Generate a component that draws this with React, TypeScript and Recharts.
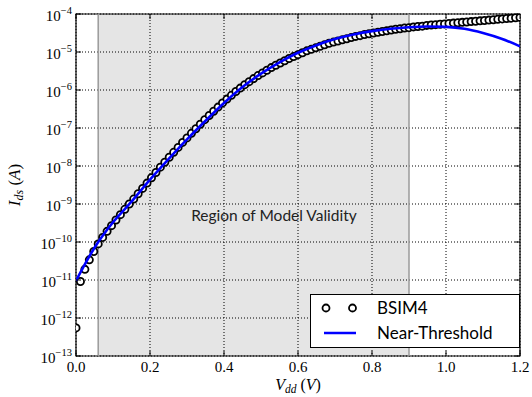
import React from 'react';
import {
  LineChart,
  Line,
  XAxis,
  YAxis,
  CartesianGrid,
  ReferenceArea,
  ReferenceLine,
  ReferenceDot,
  Legend,
  Label,
} from 'recharts';

// sweep points of the BSIM4 simulation (V)
const vdd = [
  0, 0.012, 0.024, 0.036, 0.048, 0.06, 0.072, 0.084, 0.096, 0.108,
  0.12, 0.132, 0.144, 0.156, 0.168, 0.18, 0.192, 0.204, 0.216, 0.228,
  0.24, 0.252, 0.264, 0.276, 0.288, 0.3, 0.312, 0.324, 0.336, 0.348,
  0.36, 0.372, 0.384, 0.396, 0.408, 0.42, 0.432, 0.444, 0.456, 0.468,
  0.48, 0.492, 0.504, 0.516, 0.528, 0.54, 0.552, 0.564, 0.576, 0.588,
  0.6, 0.612, 0.624, 0.636, 0.648, 0.66, 0.672, 0.684, 0.696, 0.708,
  0.72, 0.732, 0.744, 0.756, 0.768, 0.78, 0.792, 0.804, 0.816, 0.828,
  0.84, 0.852, 0.864, 0.876, 0.888, 0.9, 0.912, 0.924, 0.936, 0.948,
  0.96, 0.972, 0.984, 0.996, 1.008, 1.02, 1.032, 1.044, 1.056, 1.068,
  1.08, 1.092, 1.104, 1.116, 1.128, 1.14, 1.152, 1.164, 1.176, 1.188,
  1.2,
];

// log10(Ids)
const bsim4Log = [
  -12.26, -11.04, -10.72, -10.47, -10.25, -10.05, -9.88, -9.72, -9.57, -9.42,
  -9.28, -9.14, -9.0, -8.87, -8.73, -8.59, -8.45, -8.31, -8.17, -8.03,
  -7.9, -7.77, -7.64, -7.51, -7.38, -7.26, -7.14, -7.02, -6.9, -6.78,
  -6.67, -6.56, -6.45, -6.34, -6.24, -6.14, -6.04, -5.95, -5.86, -5.78,
  -5.7, -5.62, -5.55, -5.48, -5.41, -5.35, -5.29, -5.23, -5.17, -5.12,
  -5.07, -5.02, -4.97, -4.93, -4.89, -4.85, -4.81, -4.77, -4.74, -4.71,
  -4.68, -4.65, -4.62, -4.59, -4.57, -4.54, -4.52, -4.5, -4.48, -4.46,
  -4.44, -4.42, -4.4, -4.39, -4.37, -4.36, -4.34, -4.33, -4.32, -4.3,
  -4.29, -4.28, -4.27, -4.26, -4.25, -4.24, -4.23, -4.22, -4.21, -4.2,
  -4.19, -4.18, -4.17, -4.16, -4.15, -4.14, -4.13, -4.12, -4.11, -4.1,
  -4.09,
];

// near-threshold model curve
const ntVdd = [
  0, 0.05, 0.1, 0.15, 0.2, 0.25, 0.3, 0.35, 0.4, 0.45, 0.5, 0.55, 0.6,
  0.65, 0.7, 0.75, 0.8, 0.85, 0.9, 0.95, 1.0, 1.05, 1.1, 1.15, 1.2,
];
const ntLog = [
  -11.02, -10.15, -9.48, -8.94, -8.36, -7.82, -7.3, -6.81, -6.34, -5.92,
  -5.57, -5.27, -5.02, -4.82, -4.66, -4.54, -4.45, -4.39, -4.35, -4.33,
  -4.34, -4.39, -4.5, -4.65, -4.85,
];

const xTicks = [0, 0.2, 0.4, 0.6, 0.8, 1.0, 1.2];
const decades = [1e-13, 1e-12, 1e-11, 1e-10, 1e-9, 1e-8, 1e-7, 1e-6, 1e-5, 1e-4];
const minorTicks = decades.slice(0, -1).flatMap((d) => [2, 3, 4, 5, 6, 7, 8, 9].map((k) => k * d));

const validity = [0.06, 0.9];

const bsimRows = vdd.map((v, i) => ({ v, ids: Math.pow(10, bsim4Log[i]) }));
const ntRows = ntVdd.map((v, i) => ({ v, ids: Math.pow(10, ntLog[i]) }));

const W = 532;
const H = 397;
const PLOT_W = 444;
const PLOT_H = 342;
const SERIF = '"Liberation Serif", "DejaVu Serif", serif';
const SANS = 'Lato, "DejaVu Sans", sans-serif';

const XTick = (props: any) => {
  const { x, y, payload } = props;
  return (
    <g>
      <line x1={x} y1={y} x2={x} y2={y - 5} stroke="#000" strokeWidth={1} />
      <line x1={x} y1={y - PLOT_H} x2={x} y2={y - PLOT_H + 5} stroke="#000" strokeWidth={1} />
      <text x={x} y={y + 16} textAnchor="middle" fontFamily={SERIF} fontSize={15} fill="#000">
        {payload.value.toFixed(1)}
      </text>
    </g>
  );
};

const YTick = (props: any) => {
  const { x, y, payload } = props;
  const exp = Math.round(Math.log10(payload.value));
  return (
    <g>
      <line x1={x} y1={y} x2={x + 5} y2={y} stroke="#000" strokeWidth={1} />
      <line x1={x + PLOT_W} y1={y} x2={x + PLOT_W - 5} y2={y} stroke="#000" strokeWidth={1} />
      <text x={x - 4} y={y + 7} textAnchor="end" fontFamily={SERIF} fontSize={15} fill="#000">
        <tspan>10</tspan>
        <tspan dy={-7} fontSize={10.5}>{`\u2212${-exp}`}</tspan>
      </text>
    </g>
  );
};

const MinorTick = (props: any) => {
  const { x, y } = props;
  return (
    <g>
      <line x1={x} y1={y} x2={x - 2.5} y2={y} stroke="#000" strokeWidth={0.8} />
      <line x1={x - PLOT_W} y1={y} x2={x - PLOT_W + 2.5} y2={y} stroke="#000" strokeWidth={0.8} />
    </g>
  );
};

const XTitle = (props: any) => {
  const { viewBox } = props;
  const cx = viewBox.x + viewBox.width / 2;
  return (
    <text x={cx} y={viewBox.y + 34} textAnchor="middle" fontFamily={SERIF} fontSize={16} fill="#000">
      <tspan fontStyle="italic">V</tspan>
      <tspan fontStyle="italic" fontSize={11.5} dy={2.5}>dd</tspan>
      <tspan dy={-2.5}>{' ('}</tspan>
      <tspan fontStyle="italic">V</tspan>
      <tspan>)</tspan>
    </text>
  );
};

const YTitle = (props: any) => {
  const { viewBox } = props;
  const cy = viewBox.y + viewBox.height / 2;
  const cx = 20;
  return (
    <text
      x={cx}
      y={cy}
      transform={`rotate(-90, ${cx}, ${cy})`}
      textAnchor="middle"
      fontFamily={SERIF}
      fontSize={17}
      fill="#000"
    >
      <tspan fontStyle="italic">I</tspan>
      <tspan fontStyle="italic" fontSize={12} dy={3}>ds</tspan>
      <tspan dy={-3}>{' ('}</tspan>
      <tspan fontStyle="italic">A</tspan>
      <tspan>)</tspan>
    </text>
  );
};

const RegionLabel = (props: any) => {
  const { viewBox } = props;
  const cx = viewBox.x + viewBox.width / 2;
  const cy = viewBox.y + viewBox.height / 2;
  return (
    <text x={cx} y={cy + 5} textAnchor="middle" fontFamily={SANS} fontSize={15.5} fill="#222">
      Region of Model Validity
    </text>
  );
};

const LegendBox = () => (
  <div
    style={{
      position: 'relative',
      width: 210,
      height: 54,
      border: '1px solid #000',
      background: '#fff',
      boxSizing: 'border-box',
      fontFamily: SANS,
      fontSize: 17,
      color: '#000',
    }}
  >
    <svg width={60} height={54} style={{ position: 'absolute', left: 0, top: 0 }}>
      <circle cx={15} cy={13} r={3.5} fill="#fff" stroke="#000" strokeWidth={1.8} />
      <circle cx={41.5} cy={13} r={3.5} fill="#fff" stroke="#000" strokeWidth={1.8} />
      <line x1={13} y1={38} x2={45} y2={38} stroke="#0000ff" strokeWidth={2.5} />
    </svg>
    <div style={{ position: 'absolute', left: 66, top: 3, lineHeight: '20px' }}>BSIM4</div>
    <div style={{ position: 'absolute', left: 66, top: 28, lineHeight: '20px' }}>Near-Threshold</div>
  </div>
);

export default function App() {
  return (
    <div style={{ position: 'absolute', left: 0, top: 0, width: W, height: H, background: '#fff' }}>
      <LineChart width={W} height={H} margin={{ top: 14, right: 12, bottom: 0, left: 0 }}>
        <CartesianGrid
          xAxisId="x"
          yAxisId="L"
          stroke="#000"
          strokeWidth={1}
          strokeDasharray="1 2"
        />
        <XAxis
          xAxisId="x"
          dataKey="v"
          type="number"
          domain={[0, 1.2]}
          ticks={xTicks}
          interval={0}
          allowDataOverflow
          height={41}
          tickSize={0}
          tickMargin={0}
          tickLine={false}
          axisLine={false}
          tick={<XTick />}
        >
          <Label content={<XTitle />} />
        </XAxis>
        <YAxis
          yAxisId="L"
          type="number"
          scale="log"
          domain={[1e-13, 1e-4]}
          ticks={decades}
          interval={0}
          allowDataOverflow
          width={76}
          tickSize={0}
          tickMargin={0}
          tickLine={false}
          axisLine={false}
          tick={<YTick />}
        >
          <Label content={<YTitle />} />
        </YAxis>
        <YAxis
          yAxisId="R"
          orientation="right"
          type="number"
          scale="log"
          domain={[1e-13, 1e-4]}
          ticks={minorTicks}
          interval={0}
          allowDataOverflow
          width={0}
          tickSize={0}
          tickMargin={0}
          tickLine={false}
          axisLine={false}
          tick={<MinorTick />}
        />
        <ReferenceArea
          xAxisId="x"
          yAxisId="L"
          x1={validity[0]}
          x2={validity[1]}
          fill="#000"
          fillOpacity={0.1}
          stroke="none"
        />
        <ReferenceLine xAxisId="x" yAxisId="L" x={validity[0]} stroke="#9a9a9a" strokeWidth={1.5} />
        <ReferenceLine xAxisId="x" yAxisId="L" x={validity[1]} stroke="#9a9a9a" strokeWidth={1.5} />
        <ReferenceDot
          xAxisId="x"
          yAxisId="L"
          x={0.535}
          y={Math.pow(10, -9.32)}
          r={1}
          fill="none"
          stroke="none"
          label={<RegionLabel />}
        />
        <Line
          xAxisId="x"
          yAxisId="L"
          data={bsimRows}
          dataKey="ids"
          name="BSIM4"
          stroke="none"
          dot={{ r: 3.6, stroke: '#000', strokeWidth: 1.8, fill: '#fff' }}
          isAnimationActive={false}
          zIndex={400}
        />
        <Line
          xAxisId="x"
          yAxisId="R"
          data={ntRows}
          dataKey="ids"
          name="Near-Threshold"
          type="monotone"
          stroke="#0000ff"
          strokeWidth={2.6}
          dot={false}
          isAnimationActive={false}
          zIndex={1500}
        />
        <ReferenceArea
          xAxisId="x"
          yAxisId="L"
          x1={0}
          x2={1.2}
          y1={1e-13}
          y2={1e-4}
          fill="none"
          stroke="#000"
          strokeWidth={1.2}
        />
        <Legend
          layout="horizontal"
          verticalAlign="middle"
          align="center"
          wrapperStyle={{ left: 310, top: 294, width: 210, height: 54 }}
          content={<LegendBox />}
        />
      </LineChart>
    </div>
  );
}
